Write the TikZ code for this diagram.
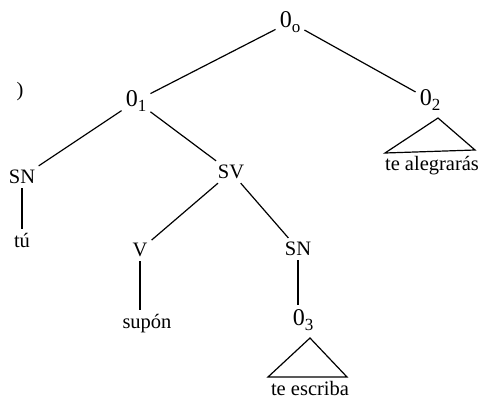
\documentclass[tikz,border=0pt]{standalone}
\usepackage{fontspec}
\setmainfont{Liberation Serif}
\usetikzlibrary{positioning}
\tikzset{
  lbl/.style={inner sep=4pt, font=\fontsize{20.5}{23}\selectfont},
  edge/.style={line width=1.2pt}
}
\newcommand{\Onode}[1]{{\fontsize{24}{24}\selectfont 0}\raisebox{-0.5ex}{\fontsize{17}{17}\selectfont #1}}

\begin{document}
\begin{tikzpicture}[x=1pt, y=-1pt]
    \useasboundingbox (0,0) rectangle (491,399);
    % nodes
    \node[lbl] (o0) at (290,22) {\Onode{o}};
    \node[lbl] (par) at (20,92) {)};
    \node[lbl] (o1) at (136,101) {\Onode{1}};
    \node[lbl] (o2) at (430,100) {\Onode{2}};
    \node[lbl] (sn1) at (22,177) {SN};
    \node[lbl] (sv) at (231,172) {SV};
    \node[lbl] (tu) at (22,240) {tú};
    \node[lbl] (v) at (140,250) {V};
    \node[lbl] (sn2) at (298,249) {SN};
    \node[lbl] (supon) at (147,324) {supón};
    \node[lbl] (o3) at (303,320) {\Onode{3}};
    \node[lbl] (escriba) at (310,388) {te escriba};
    \node[lbl] (alegraras) at (432,166) {te alegrarás};
    % triangle corners
    \coordinate (t2a) at (438,118);
    \coordinate (t2l) at (385,153);
    \coordinate (t2r) at (475,150);
    \coordinate (t3a) at (310,338);
    \coordinate (t3l) at (268,377);
    \coordinate (t3r) at (347,377);
    % branches
    \draw[edge] (o0) -- (o1);
    \draw[edge] (o0) -- (o2);
    \draw[edge] (o1) -- (sn1);
    \draw[edge] (o1) -- (sv);
    \draw[edge] (sn1) -- (tu);
    \draw[edge] (sv) -- (v);
    \draw[edge] (sv) -- (sn2);
    \draw[edge] (v) -- (supon.north -| v);
    \draw[edge] (sn2) -- (o3.north -| sn2);
    \draw[edge] (t2a) -- (t2l) -- (t2r) -- cycle;
    \draw[edge] (t3a) -- (t3l) -- (t3r) -- cycle;
\end{tikzpicture}
\end{document}
